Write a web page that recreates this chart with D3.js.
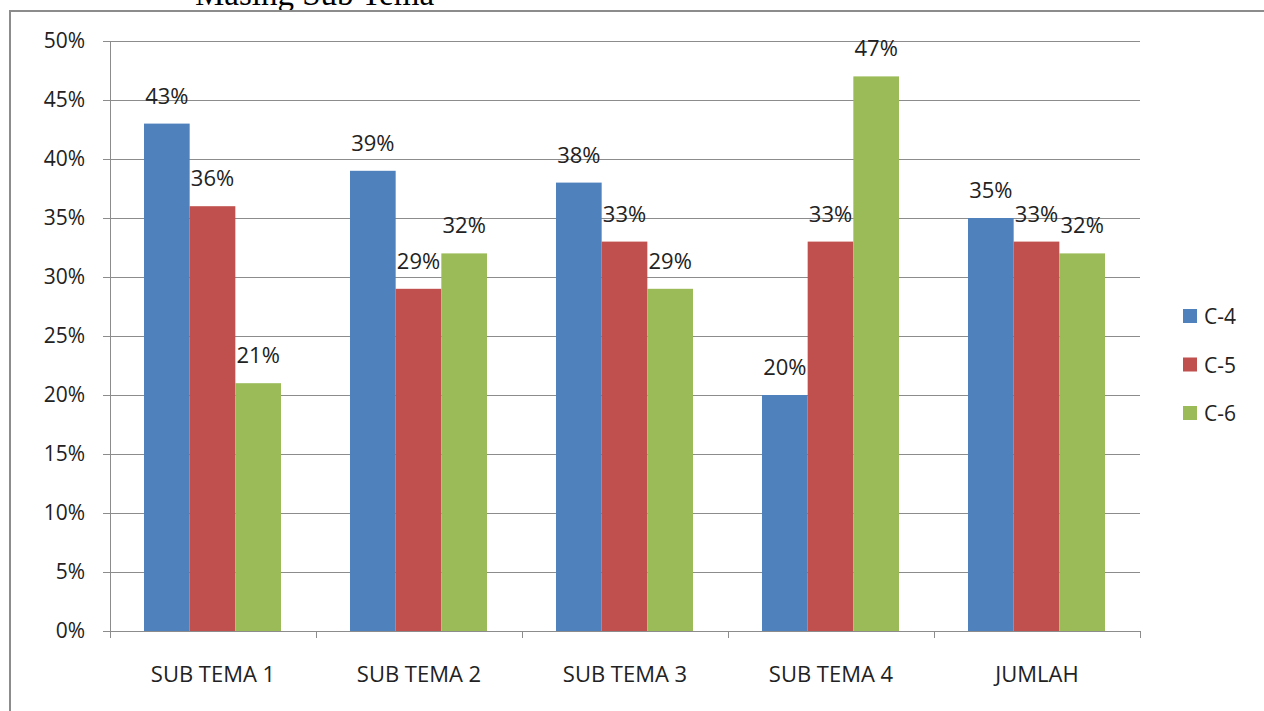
<!DOCTYPE html>
<html>
<head>
<meta charset="utf-8">
<script src="https://cdn.jsdelivr.net/npm/d3@7"></script>
<style>
  body { margin: 0; background: #fff; }
  svg { display: block; }
  text { font-family: "Open Sans", "Noto Sans", sans-serif; fill: #222; }
</style>
</head>
<body>
<div id="chart"></div>
<script>
// Data
const categories = ["SUB TEMA 1", "SUB TEMA 2", "SUB TEMA 3", "SUB TEMA 4", "JUMLAH"];
const seriesNames = ["C-4", "C-5", "C-6"];
const c4 = [43, 39, 38, 20, 35];
const c5 = [36, 29, 33, 33, 33];
const c6 = [21, 32, 29, 47, 32];
const yTicks = [0, 5, 10, 15, 20, 25, 30, 35, 40, 45, 50];
const colors = ["#4F81BD", "#C0504D", "#9BBB59"];

const W = 1264, H = 711;
const margin = { top: 41, right: 124, bottom: 80, left: 110 };
const width = W - margin.left - margin.right;
const height = H - margin.top - margin.bottom;

const svg = d3.select("#chart").append("svg")
    .attr("width", W)
    .attr("height", H);

// outer frame (cut at right and bottom) and clipped title above it
svg.append("text")
    .attr("x", 195).attr("y", 5)
    .style("font-family", "'Liberation Serif', 'DejaVu Serif', serif")
    .style("font-size", "33px")
    .style("fill", "#000")
    .text("Masing Sub Tema");
svg.append("path")
    .attr("d", `M10,${H + 5} L10,11 L${W + 5},11`)
    .attr("fill", "none")
    .attr("stroke", "#8c8c8c")
    .attr("stroke-width", 2);

const g = svg.append("g").attr("transform", `translate(${margin.left},${margin.top})`);

const x0 = d3.scaleBand().domain(categories).range([0, width]).paddingInner(0).paddingOuter(0);
const x1 = d3.scaleBand().domain(seriesNames).range([34, x0.bandwidth() - 35]);
const y = d3.scaleLinear().domain([0, 50]).range([height, 0]);

// gridlines
g.append("g").selectAll("line")
    .data(yTicks.filter(d => d > 0))
    .join("line")
    .attr("x1", 0).attr("x2", width)
    .attr("y1", d => Math.round(y(d)) + 0.5).attr("y2", d => Math.round(y(d)) + 0.5)
    .attr("stroke", "#8c8c8c");

// y axis
const yAxis = g.append("g")
    .call(d3.axisLeft(y).tickValues(yTicks).tickFormat(d => d + "%").tickSize(7).tickSizeOuter(0));
yAxis.select(".domain").attr("stroke", "#8c8c8c");
yAxis.selectAll(".tick line").attr("stroke", "#8c8c8c");
yAxis.selectAll(".tick text")
    .attr("x", -25)
    .style("font-size", "21px")
    .style("font-family", "'Open Sans', sans-serif")
    .attr("fill", "#222");

// bars
const rows = categories.map((c, i) => ({ cat: c, vals: [c4[i], c5[i], c6[i]] }));
const groups = g.append("g").selectAll("g")
    .data(rows)
    .join("g")
    .attr("transform", d => `translate(${x0(d.cat)},0)`);

groups.selectAll("rect")
    .data(d => d.vals.map((v, j) => ({ name: seriesNames[j], v, j })))
    .join("rect")
    .attr("x", d => x1(d.name))
    .attr("width", x1.bandwidth())
    .attr("y", d => y(d.v))
    .attr("height", d => height - y(d.v))
    .attr("fill", d => colors[d.j]);

groups.selectAll("text")
    .data(d => d.vals.map((v, j) => ({ name: seriesNames[j], v, j })))
    .join("text")
    .attr("x", d => x1(d.name) + x1.bandwidth() / 2)
    .attr("y", d => y(d.v) - 20)
    .attr("text-anchor", "middle")
    .style("font-size", "22px")
    .text(d => d.v + "%");

// x axis
const xAxis = g.append("g")
    .attr("transform", `translate(0,${height})`)
    .call(d3.axisBottom(x0).tickSize(0).tickSizeOuter(0));
xAxis.select(".domain").attr("stroke", "#8c8c8c");
xAxis.selectAll(".tick text")
    .attr("dy", 0)
    .attr("y", 51)
    .style("font-size", "22px")
    .attr("fill", "#222");
// boundary ticks between categories
g.append("g").selectAll("line")
    .data(d3.range(categories.length + 1))
    .join("line")
    .attr("x1", i => i * x0.bandwidth() + 0.5).attr("x2", i => i * x0.bandwidth() + 0.5)
    .attr("y1", height).attr("y2", height + 7)
    .attr("stroke", "#8c8c8c");

// legend
const legend = svg.append("g").attr("transform", "translate(1183,309)");
const li = legend.selectAll("g")
    .data(seriesNames)
    .join("g")
    .attr("transform", (d, i) => `translate(0,${i * 48.5})`);
li.append("rect")
    .attr("width", 14).attr("height", 14)
    .attr("fill", (d, i) => colors[i]);
li.append("text")
    .attr("x", 21).attr("y", 15)
    .style("font-size", "21px")
    .text(d => d);
</script>
</body>
</html>
